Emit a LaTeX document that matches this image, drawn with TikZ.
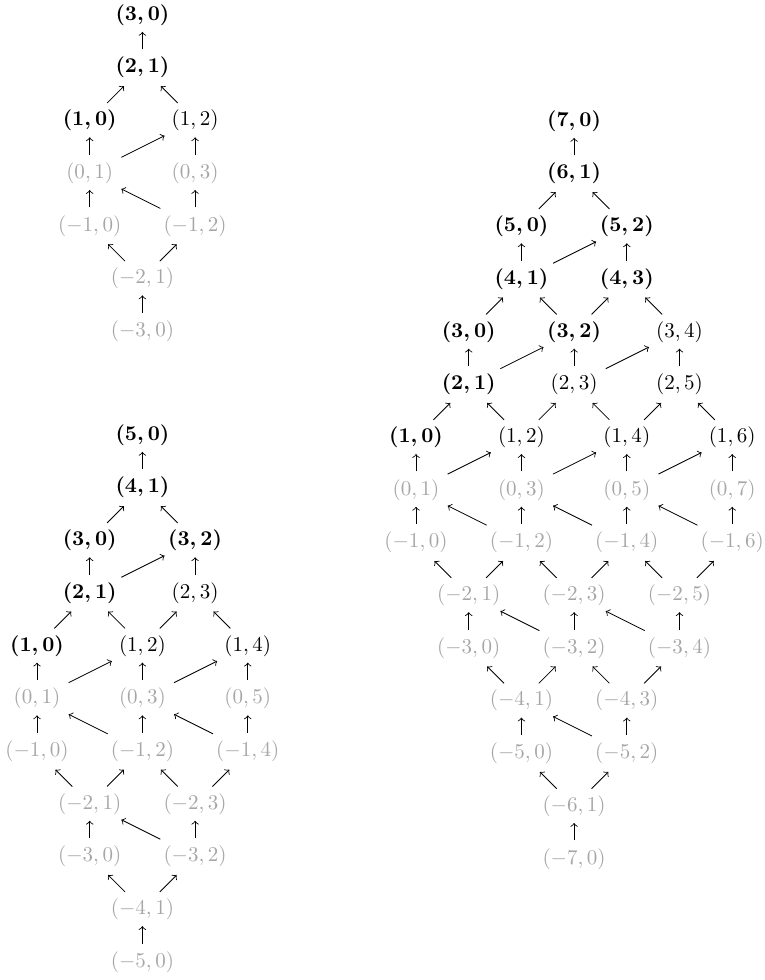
\documentclass[tikz,border=0pt]{standalone}
\usetikzlibrary{calc}

\tikzset{
  x=0.88cm, y=0.88cm,
  lat/.style={inner sep=1pt},
  bnode/.style={lat, font=\boldmath, text=black},
  knode/.style={lat, text=black},
  gnode/.style={lat, text=black!35},
  arw/.style={->, line width=0.4pt, black},
}

% arrow between two named nodes, drawn over the middle part of the segment
\newcommand\lk[4]{\draw[arw] ($(#1)!#3!(#2)$) -- ($(#1)!#4!(#2)$);}
\newcommand\lkv[2]{\lk{#1}{#2}{0.35}{0.68}}  % straight up
\newcommand\lkd[2]{\lk{#1}{#2}{0.33}{0.65}}  % short diagonal
\newcommand\lkr[2]{\lk{#1}{#2}{0.30}{0.71}}  % long diagonal, up-right
\newcommand\lkl[2]{\lk{#1}{#2}{0.33}{0.70}}  % long diagonal, up-left

\begin{document}
\begin{tikzpicture}
\useasboundingbox (0,0) rectangle (14.516,-18.596);

% ---------- n = 3 ----------
\begin{scope}[shift={(1.702,-0.285)}]
\node[bnode] (a30) at (1,0) {$(3,0)$};
\node[bnode] (a21) at (1,-1) {$(2,1)$};
\node[bnode] (a10) at (0,-2) {$(1,0)$};
\node[knode] (a12) at (2,-2) {$(1,2)$};
\node[gnode] (a01) at (0,-3) {$(0,1)$};
\node[gnode] (a03) at (2,-3) {$(0,3)$};
\node[gnode] (am10) at (0,-4) {$(-1,0)$};
\node[gnode] (am12) at (2,-4) {$(-1,2)$};
\node[gnode] (am21) at (1,-5) {$(-2,1)$};
\node[gnode] (am30) at (1,-6) {$(-3,0)$};

\lkv{a21}{a30}
\lkd{a10}{a21} \lkd{a12}{a21}
\lkv{a01}{a10} \lkr{a01}{a12} \lkv{a03}{a12}
\lkv{am10}{a01} \lkl{am12}{a01} \lkv{am12}{a03}
\lkd{am21}{am10} \lkd{am21}{am12}
\lkv{am30}{am21}
\end{scope}

% ---------- n = 5 ----------
\begin{scope}[shift={(0.702,-8.254)}]
\node[bnode] (b50) at (2,0) {$(5,0)$};
\node[bnode] (b41) at (2,-1) {$(4,1)$};
\node[bnode] (b30) at (1,-2) {$(3,0)$};
\node[bnode] (b32) at (3,-2) {$(3,2)$};
\node[bnode] (b21) at (1,-3) {$(2,1)$};
\node[knode] (b23) at (3,-3) {$(2,3)$};
\node[bnode] (b10) at (0,-4) {$(1,0)$};
\node[knode] (b12) at (2,-4) {$(1,2)$};
\node[knode] (b14) at (4,-4) {$(1,4)$};
\node[gnode] (b01) at (0,-5) {$(0,1)$};
\node[gnode] (b03) at (2,-5) {$(0,3)$};
\node[gnode] (b05) at (4,-5) {$(0,5)$};
\node[gnode] (bm10) at (0,-6) {$(-1,0)$};
\node[gnode] (bm12) at (2,-6) {$(-1,2)$};
\node[gnode] (bm14) at (4,-6) {$(-1,4)$};
\node[gnode] (bm21) at (1,-7) {$(-2,1)$};
\node[gnode] (bm23) at (3,-7) {$(-2,3)$};
\node[gnode] (bm30) at (1,-8) {$(-3,0)$};
\node[gnode] (bm32) at (3,-8) {$(-3,2)$};
\node[gnode] (bm41) at (2,-9) {$(-4,1)$};
\node[gnode] (bm50) at (2,-10) {$(-5,0)$};

\lkv{b41}{b50}
\lkd{b30}{b41} \lkd{b32}{b41}
\lkv{b21}{b30} \lkr{b21}{b32} \lkv{b23}{b32}
\lkd{b10}{b21} \lkd{b12}{b21} \lkd{b12}{b23} \lkd{b14}{b23}
\lkv{b01}{b10} \lkr{b01}{b12} \lkv{b03}{b12} \lkr{b03}{b14} \lkv{b05}{b14}
\lkv{bm10}{b01} \lkl{bm12}{b01} \lkv{bm12}{b03} \lkl{bm14}{b03} \lkv{bm14}{b05}
\lkd{bm21}{bm10} \lkd{bm21}{bm12} \lkd{bm23}{bm12} \lkd{bm23}{bm14}
\lkv{bm30}{bm21} \lkl{bm32}{bm21} \lkv{bm32}{bm23}
\lkd{bm41}{bm30} \lkd{bm41}{bm32}
\lkv{bm50}{bm41}
\end{scope}

% ---------- n = 7 ----------
\begin{scope}[shift={(7.894,-2.296)}]
\node[bnode] (c70) at (3,0) {$(7,0)$};
\node[bnode] (c61) at (3,-1) {$(6,1)$};
\node[bnode] (c50) at (2,-2) {$(5,0)$};
\node[bnode] (c52) at (4,-2) {$(5,2)$};
\node[bnode] (c41) at (2,-3) {$(4,1)$};
\node[bnode] (c43) at (4,-3) {$(4,3)$};
\node[bnode] (c30) at (1,-4) {$(3,0)$};
\node[bnode] (c32) at (3,-4) {$(3,2)$};
\node[knode] (c34) at (5,-4) {$(3,4)$};
\node[bnode] (c21) at (1,-5) {$(2,1)$};
\node[knode] (c23) at (3,-5) {$(2,3)$};
\node[knode] (c25) at (5,-5) {$(2,5)$};
\node[bnode] (c10) at (0,-6) {$(1,0)$};
\node[knode] (c12) at (2,-6) {$(1,2)$};
\node[knode] (c14) at (4,-6) {$(1,4)$};
\node[knode] (c16) at (6,-6) {$(1,6)$};
\node[gnode] (c01) at (0,-7) {$(0,1)$};
\node[gnode] (c03) at (2,-7) {$(0,3)$};
\node[gnode] (c05) at (4,-7) {$(0,5)$};
\node[gnode] (c07) at (6,-7) {$(0,7)$};
\node[gnode] (cm10) at (0,-8) {$(-1,0)$};
\node[gnode] (cm12) at (2,-8) {$(-1,2)$};
\node[gnode] (cm14) at (4,-8) {$(-1,4)$};
\node[gnode] (cm16) at (6,-8) {$(-1,6)$};
\node[gnode] (cm21) at (1,-9) {$(-2,1)$};
\node[gnode] (cm23) at (3,-9) {$(-2,3)$};
\node[gnode] (cm25) at (5,-9) {$(-2,5)$};
\node[gnode] (cm30) at (1,-10) {$(-3,0)$};
\node[gnode] (cm32) at (3,-10) {$(-3,2)$};
\node[gnode] (cm34) at (5,-10) {$(-3,4)$};
\node[gnode] (cm41) at (2,-11) {$(-4,1)$};
\node[gnode] (cm43) at (4,-11) {$(-4,3)$};
\node[gnode] (cm50) at (2,-12) {$(-5,0)$};
\node[gnode] (cm52) at (4,-12) {$(-5,2)$};
\node[gnode] (cm61) at (3,-13) {$(-6,1)$};
\node[gnode] (cm70) at (3,-14) {$(-7,0)$};

\lkv{c61}{c70}
\lkd{c50}{c61} \lkd{c52}{c61}
\lkv{c41}{c50} \lkr{c41}{c52} \lkv{c43}{c52}
\lkd{c30}{c41} \lkd{c32}{c41} \lkd{c32}{c43} \lkd{c34}{c43}
\lkv{c21}{c30} \lkr{c21}{c32} \lkv{c23}{c32} \lkr{c23}{c34} \lkv{c25}{c34}
\lkd{c10}{c21} \lkd{c12}{c21} \lkd{c12}{c23} \lkd{c14}{c23} \lkd{c14}{c25} \lkd{c16}{c25}
\lkv{c01}{c10} \lkr{c01}{c12} \lkv{c03}{c12} \lkr{c03}{c14} \lkv{c05}{c14} \lkr{c05}{c16} \lkv{c07}{c16}
\lkv{cm10}{c01} \lkl{cm12}{c01} \lkv{cm12}{c03} \lkl{cm14}{c03} \lkv{cm14}{c05} \lkl{cm16}{c05} \lkv{cm16}{c07}
\lkd{cm21}{cm10} \lkd{cm21}{cm12} \lkd{cm23}{cm12} \lkd{cm23}{cm14} \lkd{cm25}{cm14} \lkd{cm25}{cm16}
\lkv{cm30}{cm21} \lkl{cm32}{cm21} \lkv{cm32}{cm23} \lkl{cm34}{cm23} \lkv{cm34}{cm25}
\lkd{cm41}{cm30} \lkd{cm41}{cm32} \lkd{cm43}{cm32} \lkd{cm43}{cm34}
\lkv{cm50}{cm41} \lkl{cm52}{cm41} \lkv{cm52}{cm43}
\lkd{cm61}{cm50} \lkd{cm61}{cm52}
\lkv{cm70}{cm61}
\end{scope}
\end{tikzpicture}
\end{document}
